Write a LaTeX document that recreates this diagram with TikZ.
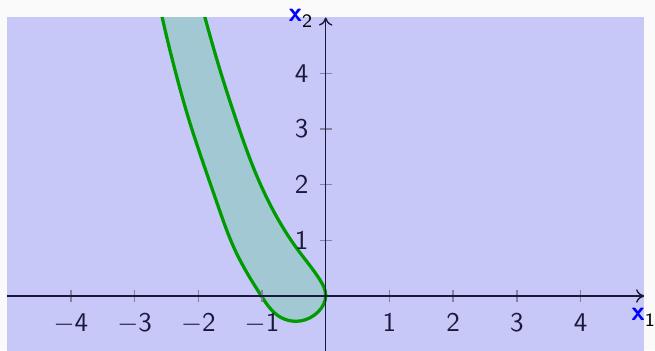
\documentclass[tikz,border=0pt]{standalone}
\usepackage{xcolor}
\usetikzlibrary{arrows.meta,hobby}
\definecolor{pagebg}{RGB}{250,250,250}
\definecolor{lav}{RGB}{200,200,248}
\definecolor{bandfill}{RGB}{162,201,211}
\definecolor{bandline}{RGB}{0,155,0}
\definecolor{axiscol}{RGB}{25,25,60}
\definecolor{tickcol}{RGB}{130,130,165}
\definecolor{lblblue}{RGB}{0,0,255}
\tikzset{
  band/.style={fill=bandfill, draw=bandline, line width=1.2pt},
  axisline/.style={draw=axiscol, line width=0.5pt, -{To[length=3pt,width=5pt]}},
  tickmark/.style={draw=tickcol, line width=0.5pt},
  ticklbl/.style={text=axiscol, inner sep=0pt, font=\sffamily},
  axlbl/.style={inner sep=0pt, anchor=base west, font=\sffamily},
}
\newcommand{\axlabel}[1]{\textcolor{lblblue}{\bfseries x}\raisebox{-2.3pt}{\scriptsize #1}}
\begin{document}
\begin{tikzpicture}[x=23.57pt, y=20.61pt]
\useasboundingbox (-5.113,-0.9695) rectangle (5.169,5.314);
\fill[pagebg] (-5.113,-0.9695) rectangle (5.169,5.314);
\fill[lav] (-5,-1) rectangle (5,5);
\begin{scope}
  \clip (-5,-1) rectangle (5,5);
  \filldraw[band, use Hobby shortcut]
    (-2.64,5.4) .. (-2.575,5.045) .. (-2.366,4.057) .. (-2.130,3.101) .. (-1.922,2.382)
    .. (-1.686,1.603) .. (-1.43,0.84) .. (-1.0,-0.018) .. (-0.717,-0.377) .. (-0.403,-0.449)
    .. (-0.121,-0.287) .. (0.0,0.02)
    .. (-0.089,0.287) .. (-0.435,0.826) .. (-0.855,1.603) .. (-1.162,2.382)
    .. (-1.388,3.101) .. (-1.659,4.057) .. (-1.906,5.045) .. (-1.99,5.4) -- cycle;
\end{scope}
% ticks
\foreach \i/\t/\n in {-4/4/a,-3/3/b,-2/2/c,-1/1/d}{
  \draw[tickmark] (\i,-0.107) -- (\i,0.107);
  \node[ticklbl, anchor=north] (xt\n) at (\i,-0.305) {$-$\t};
}
\foreach \i in {1,2,3,4}{
  \draw[tickmark] (\i,-0.107) -- (\i,0.107);
  \node[ticklbl, anchor=north] (xp\i) at (\i,-0.305) {\i};
}
\foreach \j in {1,2,3,4}{
  \draw[tickmark] (-0.093,\j) -- (0.093,\j);
  \node[ticklbl, anchor=east] (yt\j) at (-0.262,\j) {\j};
}
% axes
\coordinate (xs) at (-5,0);
\coordinate (xe) at (5,0);
\coordinate (ys) at (0,-1);
\coordinate (ye) at (0,5);
\draw[axisline] (xs) -- (xe);
\draw[axisline] (ys) -- (ye);
\node[axlbl] (xlab) at (4.79,-0.431) {\axlabel{1}};
\node[axlbl] (ylab) at (-0.592,4.925) {\axlabel{2}};
\end{tikzpicture}
\end{document}
